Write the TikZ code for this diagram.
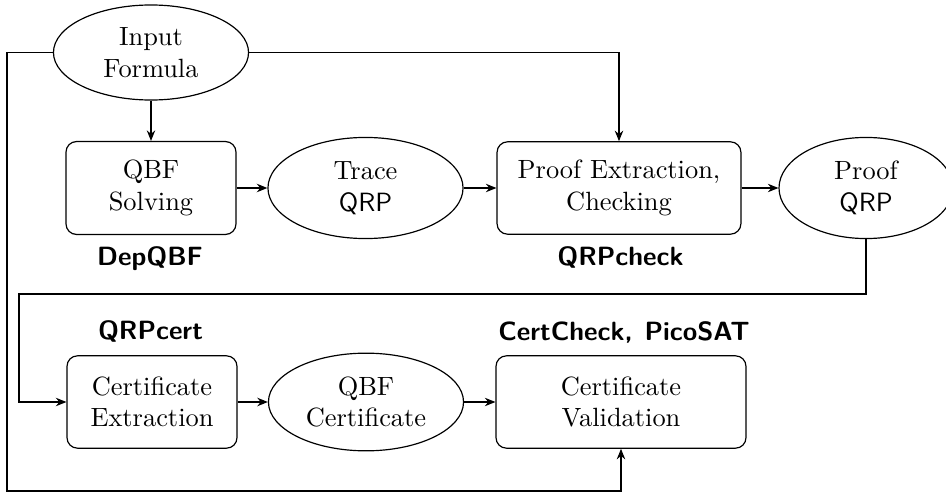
\documentclass[tikz,border=0pt]{standalone}
\usetikzlibrary{shapes.geometric,arrows.meta}
\begin{document}
\begin{tikzpicture}[x=0.3788pt,y=-0.3788pt,
  every node/.style={font=\normalsize},
  procbox/.style={draw,rounded corners=4pt,align=center,inner sep=0pt},
  databox/.style={draw,ellipse,align=center,inner sep=0pt},
  toollabel/.style={font=\sffamily\bfseries},
  arr/.style={-{Stealth[length=4pt,width=3.2pt]}},
  line width=0.45pt]
\useasboundingbox (0,0) rectangle (946,493);
\node[databox,minimum width=73.9pt,minimum height=36pt] (in) at (151,52.5) {Input\\Formula};
\node[procbox,minimum width=64.4pt,minimum height=35.2pt] (qs) at (151,188) {QBF\\Solving};
\node[databox,minimum width=73.9pt,minimum height=38.3pt] (tr) at (365.5,188) {Trace\\\textsf{QRP}};
\node[procbox,minimum width=92.4pt,minimum height=35pt] (pe) at (619,188) {Proof Extraction,\\Checking};
\node[databox,minimum width=65.9pt,minimum height=38.3pt] (pq) at (866,188) {Proof\\\textsf{QRP}};
\node[procbox,minimum width=64.4pt,minimum height=35pt] (ce) at (152,402) {Certificate\\Extraction};
\node[databox,minimum width=73.9pt,minimum height=37pt] (qc) at (366,402) {QBF\\Certificate};
\node[procbox,minimum width=94.7pt,minimum height=35pt] (cv) at (621,402) {Certificate\\Validation};
\node[toollabel] (l1) at (150,259) {DepQBF};
\node[toollabel] (l2) at (620.5,257) {QRPcheck};
\node[toollabel] (l3) at (150.5,331) {QRPcert};
\node[toollabel] (l4) at (624,332) {CertCheck,\hspace{4.5pt}PicoSAT};
\coordinate (c1) at (7,491);
\coordinate (c2) at (19,294);
\draw[arr] (in.south) -- (qs.north);
\draw[arr] (in.east) -| (pe.north);
\draw[arr] (in.west) -| (c1) -| (cv.south);
\draw[arr] (qs.east) -- (tr.west);
\draw[arr] (tr.east) -- (pe.west);
\draw[arr] (pe.east) -- (pq.west);
\draw[arr] (pq.south) |- (c2) |- (ce.west);
\draw[arr] (ce.east) -- (qc.west);
\draw[arr] (qc.east) -- (cv.west);
\end{tikzpicture}
\end{document}
